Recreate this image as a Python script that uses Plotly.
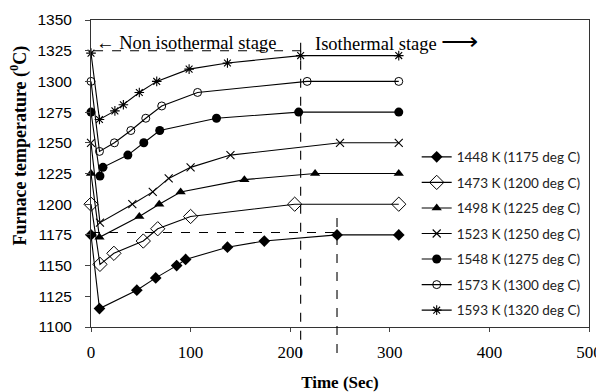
import plotly.graph_objects as go

# Data (time in s, furnace temperature in deg C)
t_1448 = [0, 8.5, 46, 65, 86, 95, 137, 174, 247, 309]
y_1448 = [1175, 1115, 1130, 1140, 1150, 1155, 1165, 1170, 1175, 1175]

t_1473 = [0, 9, 23, 52.5, 67, 100, 204.5, 309]
y_1473 = [1200, 1151, 1160, 1170, 1180, 1190, 1200, 1200]

t_1498 = [0, 8.5, 48.5, 68.5, 90, 154, 225, 309]
y_1498 = [1225, 1173, 1190, 1200, 1210, 1220, 1225, 1225]

t_1523 = [0, 9, 41.5, 62, 78, 100, 140, 250, 309]
y_1523 = [1250, 1185, 1200, 1210, 1221, 1230, 1240, 1250, 1250]

t_1548 = [0, 9, 12, 37, 53, 69, 126, 208.5, 309]
y_1548 = [1275, 1223, 1230, 1240, 1250, 1260, 1270, 1275, 1275]

t_1573 = [0, 8.5, 23.5, 40, 55, 71, 107, 217, 309]
y_1573 = [1300, 1243, 1250, 1260, 1270, 1280, 1291, 1300, 1300]

t_1593 = [0, 8.5, 24, 32.5, 48.5, 66, 98.5, 137, 210.5, 309]
y_1593 = [1323, 1269, 1276, 1281, 1291, 1300, 1310, 1315, 1321, 1321]

names = ["1448 K (1175 deg C)", "1473 K (1200 deg C)", "1498 K (1225 deg C)",
         "1523 K (1250 deg C)", "1548 K (1275 deg C)", "1573 K (1300 deg C)",
         "1593 K (1320 deg C)"]

x_ticks = [0, 100, 200, 300, 400, 500]
y_ticks = [1100, 1125, 1150, 1175, 1200, 1225, 1250, 1275, 1300, 1325, 1350]

series = [(t_1448, y_1448), (t_1473, y_1473), (t_1498, y_1498), (t_1523, y_1523),
          (t_1548, y_1548), (t_1573, y_1573), (t_1593, y_1593)]
markers = [
    dict(symbol="diamond", size=9, color="black"),
    dict(symbol="diamond-open", size=11, color="black", line=dict(width=1)),
    dict(symbol="triangle-up", size=9, color="black"),
    dict(symbol="x-thin-open", size=8, color="black", line=dict(width=1.1)),
    dict(symbol="circle", size=9, color="black"),
    dict(symbol="circle-open", size=8, color="black", line=dict(width=1)),
    dict(symbol="asterisk-open", size=8, color="black", line=dict(width=1.1)),
]

SERIF = "Liberation Serif, Times New Roman, serif"

fig = go.Figure()
for i, ((tx, ty), nm, mk) in enumerate(zip(series, names, markers)):
    fig.add_trace(go.Scatter(x=tx, y=ty, name=nm, mode="lines+markers",
                             line=dict(color="black", width=1.1), marker=mk,
                             legendgroup=str(i), cliponaxis=False))

dash = dict(color="black", width=1.1, dash="dash")
shapes = [
    dict(type="line", xref="x", yref="y", x0=-15, x1=210.5, y0=1325, y1=1325, line=dash),
    dict(type="line", xref="x", yref="paper", x0=210.5, x1=210.5, y0=-0.1, y1=0.928, line=dash),
    dict(type="line", xref="x", yref="y", x0=0, x1=252, y0=1177, y1=1177, line=dash),
    dict(type="line", xref="x", yref="paper", x0=247, x1=247, y0=-0.085, y1=0.37, line=dash),
]

annotations = [
    dict(x=3, y=1331.3, xref="x", yref="y", text="\u2190 Non isothermal stage", showarrow=False,
         xanchor="left", yanchor="middle", font=dict(family=SERIF, size=18.5, color="black")),
    dict(x=223, y=1332.5, xref="x", yref="y",
         text="Isothermal stage <span style='font-size:26px'>\u27f6</span>", showarrow=False,
         xanchor="left", yanchor="middle", font=dict(family=SERIF, size=18.5, color="black")),
    dict(x=-0.1446, y=0.591, xref="paper", yref="paper", textangle=-90,
         text="<b>Furnace temperature (<sup>0</sup>C)</b>", showarrow=False,
         xanchor="center", yanchor="middle", font=dict(family=SERIF, size=18, color="black")),
]

# The page body has an 8px margin: compensate so the plot lands where it should.
fig.update_layout(
    width=596, height=384,
    margin=dict(l=83, r=15, t=12, b=65),
    paper_bgcolor="white", plot_bgcolor="white",
    showlegend=True,
    legend=dict(x=0.654, y=0.604, xanchor="left", yanchor="top",
                font=dict(family="Lato, sans-serif", size=13.5, color="#222"),
                tracegroupgap=5, bgcolor="rgba(0,0,0,0)", itemwidth=30),
    shapes=shapes, annotations=annotations,
    xaxis=dict(range=[0, 500], tickvals=x_ticks, ticks="outside", ticklen=4, automargin=False,
               showline=True, linecolor="#333", mirror=True, showgrid=False, zeroline=False,
               ticklabelstandoff=6,
               tickfont=dict(family=SERIF, size=17, color="black"),
               title=dict(text="<b>Time (Sec)</b>", standoff=14,
                          font=dict(family=SERIF, size=17, color="black"))),
    yaxis=dict(range=[1100, 1350], tickvals=y_ticks, ticks="outside", ticklen=5, automargin=False,
               showline=True, linecolor="#333", mirror=True, showgrid=False, zeroline=False,
               ticklabelstandoff=10,
               tickfont=dict(family="Liberation Sans, Arial, sans-serif", size=15.5, color="black")),
)

fig.write_html("out.html")
